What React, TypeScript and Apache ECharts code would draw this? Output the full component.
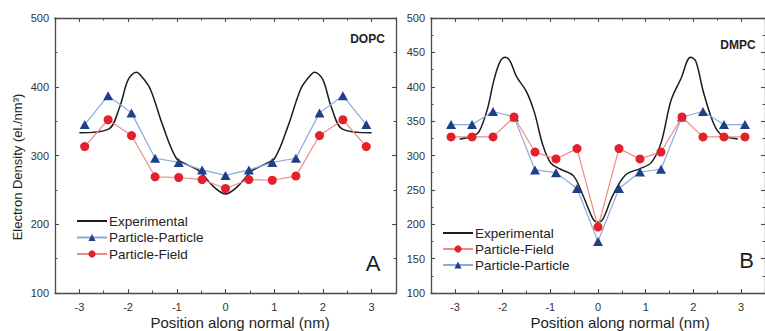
import React, { useEffect, useRef } from "react";
import * as echarts from "echarts";

// DOPC bilayer (panel A)
const dopcSimX = [-2.89, -2.41, -1.93, -1.445, -0.96, -0.48, 0, 0.48, 0.96, 1.445, 1.93, 2.41, 2.89];
const dopcParticleParticle = [345, 387, 362, 296, 290, 279, 271, 279, 290, 296, 362, 387, 345];
const dopcParticleField = [313, 352, 329, 269, 268, 265, 252, 265, 264, 270, 329, 352, 313];
const dopcExpX = [-3.0, -2.41, -2.17, -2.0, -1.83, -1.7, -1.54, -1.28, -1.01, -0.8, -0.53, -0.25, 0, 0.25, 0.53, 0.8, 1.01, 1.28, 1.54, 1.7, 1.83, 2.0, 2.17, 2.41, 3.0];
const dopcExperimental = [333, 338, 371, 410, 421, 413, 396, 342, 296, 287, 277, 255, 244, 255, 277, 287, 296, 342, 396, 413, 421, 410, 371, 338, 333];

// DMPC bilayer (panel B)
const dmpcSimX = [-3.08, -2.64, -2.2, -1.76, -1.32, -0.88, -0.44, 0, 0.44, 0.88, 1.32, 1.76, 2.2, 2.64, 3.08];
const dmpcParticleParticle = [345, 345, 364, 356, 279, 275, 252, 175, 252, 276, 280, 356, 364, 345, 345];
const dmpcParticleField = [327, 327, 327, 356, 305, 295, 310, 196, 310, 295, 305, 356, 327, 327, 327];
const dmpcExpX = [-2.9, -2.63, -2.49, -2.32, -2.18, -2.05, -1.94, -1.84, -1.71, -1.5, -1.33, -1.16, -0.99, -0.785, -0.51, -0.31, -0.1, 0, 0.1, 0.31, 0.58, 0.885, 1.12, 1.32, 1.53, 1.74, 1.94, 2.05, 2.21, 2.42, 2.59, 2.93];
const dmpcExperimental = [324, 328, 335, 367, 410, 437, 443, 437, 415, 393, 362, 316, 289, 280, 270, 241, 207, 203, 207, 242, 272, 281, 290, 318, 380, 412, 443, 437, 392, 347, 330, 324];

const seriesNames = ["Experimental", "Particle-Particle", "Particle-Field"];
const legendA = ["Experimental", "Particle-Particle", "Particle-Field"];
const legendB = ["Experimental", "Particle-Field", "Particle-Particle"];

const xTitle = "Position along normal (nm)";
const yTitle = "Electron Density (el./nm³)";

const FONT = "'Liberation Sans', Arial, sans-serif";
const AXIS_COLOR = "#4a4a4a";
const LABEL_COLOR = "#333";

const zip = (xs: number[], ys: number[]) => xs.map((x, i) => [x, ys[i]]);

function makeX(gridIndex: number, position: "bottom" | "top") {
  const labels = position === "bottom";
  return {
    type: "value",
    gridIndex,
    position,
    min: -3.5,
    max: 3.5,
    splitNumber: 7,
    axisLine: { show: true, onZero: false, lineStyle: { color: AXIS_COLOR, width: 1.3 } },
    axisTick: { show: true, inside: true, length: 4, lineStyle: { color: AXIS_COLOR, width: 1.1 } },
    minorTick: { show: true, splitNumber: 2, length: 2.5, lineStyle: { color: AXIS_COLOR, width: 1 } },
    axisLabel: {
      show: labels,
      showMinLabel: false,
      showMaxLabel: false,
      fontSize: 11,
      fontFamily: FONT,
      color: LABEL_COLOR,
      margin: 8,
    },
    splitLine: { show: false },
    minorSplitLine: { show: false },
  };
}

function makeY(gridIndex: number, position: "left" | "right", interval: number) {
  const labels = position === "left";
  return {
    type: "value",
    gridIndex,
    position,
    min: 100,
    max: 500,
    interval,
    axisLine: { show: true, onZero: false, lineStyle: { color: AXIS_COLOR, width: 1.3 } },
    axisTick: { show: true, inside: true, length: 4, lineStyle: { color: AXIS_COLOR, width: 1.1 } },
    minorTick: { show: true, splitNumber: 2, length: 2.5, lineStyle: { color: AXIS_COLOR, width: 1 } },
    axisLabel: {
      show: labels,
      fontSize: 11,
      fontFamily: FONT,
      color: LABEL_COLOR,
      margin: 6,
    },
    splitLine: { show: false },
    minorSplitLine: { show: false },
  };
}

function panelSeries(
  axisIndex: number,
  expX: number[],
  exp: number[],
  simX: number[],
  pp: number[],
  pf: number[]
) {
  return [
    {
      name: seriesNames[0],
      type: "line",
      xAxisIndex: axisIndex,
      yAxisIndex: axisIndex,
      data: zip(expX, exp),
      smooth: 0.35,
      symbol: "none",
      lineStyle: { color: "#1c1c1c", width: 1.5 },
      itemStyle: { color: "#1c1c1c" },
      z: 2,
    },
    {
      name: seriesNames[1],
      type: "line",
      xAxisIndex: axisIndex,
      yAxisIndex: axisIndex,
      data: zip(simX, pp),
      symbol: "triangle",
      symbolSize: [10, 9],
      lineStyle: { color: "#8eaadb", width: 1.2 },
      itemStyle: { color: "#1f3f8a", borderWidth: 0 },
      z: 3,
    },
    {
      name: seriesNames[2],
      type: "line",
      xAxisIndex: axisIndex,
      yAxisIndex: axisIndex,
      data: zip(simX, pf),
      symbol: "circle",
      symbolSize: 9,
      lineStyle: { color: "#f08a86", width: 1.2 },
      itemStyle: { color: "#e3202b", borderWidth: 0 },
      z: 4,
    },
  ];
}

function legend(names: string[], left: number, top: number, gap: number) {
  return {
    // the experimental profile is a plain line, so its key shows no marker
    data: names.map((n) =>
      n === seriesNames[0] ? { name: n, itemStyle: { opacity: 0 } } : { name: n }
    ),
    orient: "vertical",
    left,
    top,
    itemWidth: 30,
    itemHeight: 9,
    itemGap: gap,
    padding: 0,
    selectedMode: false,
    textStyle: { fontSize: 13.5, fontFamily: FONT, color: "#222", lineHeight: 14, padding: [0, 0, 0, -3] },
  };
}

function text(x: number, y: number, str: string, size: number, weight = "normal", rotation = 0) {
  return {
    type: "text",
    x,
    y,
    rotation,
    silent: true,
    style: {
      text: str,
      fontSize: size,
      fontWeight: weight,
      fontFamily: FONT,
      fill: "#1e1e1e",
      align: "center",
      verticalAlign: "middle",
    },
  };
}

export default function App() {
  const ref = useRef<HTMLDivElement>(null);

  useEffect(() => {
    if (!ref.current) return;
    const chart = echarts.init(ref.current, undefined, { renderer: "svg" });
    chart.setOption({
      animation: false,
      backgroundColor: "#ffffff",
      grid: [
        { left: 55, top: 18, width: 341, height: 275 },
        { left: 431, top: 18, width: 342, height: 275 },
      ],
      xAxis: [makeX(0, "bottom"), makeX(0, "top"), makeX(1, "bottom"), makeX(1, "top")],
      yAxis: [makeY(0, "left", 100), makeY(0, "right", 100), makeY(1, "left", 50), makeY(1, "right", 50)],
      legend: [legend(legendA, 76, 214, 2.5), legend(legendB, 442, 226, 2)],
      series: [
        ...panelSeries(0, dopcExpX, dopcExperimental, dopcSimX, dopcParticleParticle, dopcParticleField),
        ...panelSeries(2, dmpcExpX, dmpcExperimental, dmpcSimX, dmpcParticleParticle, dmpcParticleField),
      ],
      graphic: [
        text(17, 167, yTitle, 13, "normal", Math.PI / 2),
        text(240, 322, xTitle, 15),
        text(620, 322, xTitle, 15),
        text(367.5, 39, "DOPC", 12, "bold"),
        text(738, 45, "DMPC", 12, "bold"),
        text(373, 263, "A", 22),
        text(746.5, 260, "B", 22),
      ],
    });
    return () => chart.dispose();
  }, []);

  return (
    <div
      ref={ref}
      style={{ position: "absolute", left: 0, top: 0, width: 765, height: 331, background: "#fff" }}
    />
  );
}
